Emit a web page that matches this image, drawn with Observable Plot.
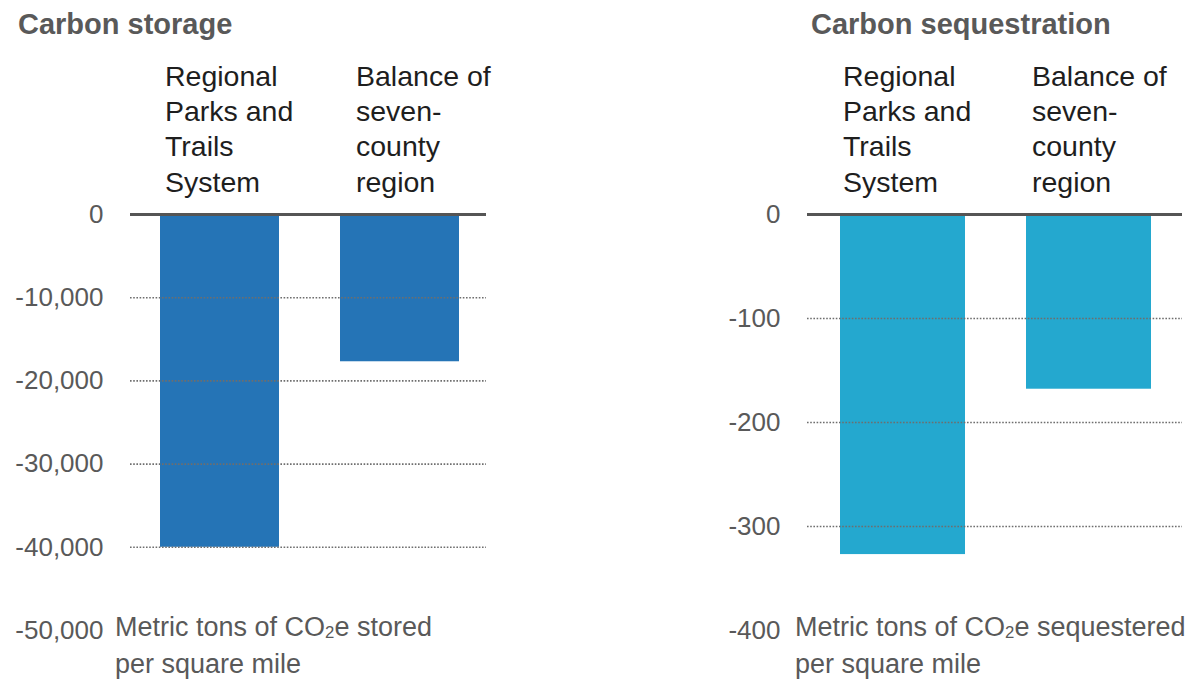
<!DOCTYPE html>
<html>
<head>
<meta charset="utf-8">
<script src="https://cdn.jsdelivr.net/npm/d3@7"></script>
<script src="https://cdn.jsdelivr.net/npm/@observablehq/plot@0.6"></script>
<style>
  html, body { margin: 0; padding: 0; background: #ffffff; }
  #page { position: relative; width: 1191px; height: 682px; overflow: hidden; font-family: "Liberation Sans", Arial, sans-serif; }
  .panel { position: absolute; top: 0; }
  .title { position: absolute; font-weight: bold; font-size: 29px; line-height: 29px; color: #595959; white-space: nowrap; }
  .unit { position: absolute; font-size: 27px; line-height: 37px; color: #595959; white-space: nowrap; }
  .unit sub { font-size: 0.62em; vertical-align: -0.12em; line-height: 0; }
</style>
</head>
<body>
<div id="page">
  <div class="panel" id="left" style="left:0px;"></div>
  <div class="panel" id="right" style="left:700px;"></div>
  <div class="title" style="left:18px; top:10px;">Carbon storage</div>
  <div class="title" style="left:811px; top:10px;">Carbon sequestration</div>
  <div class="unit" style="left:115px; top:609px;">Metric tons of CO<sub>2</sub>e stored<br>per square mile</div>
  <div class="unit" style="left:795px; top:609px;">Metric tons of CO<sub>2</sub>e sequestered<br>per square mile</div>
</div>
<script>
// ---- data ----
const categories = ["Regional Parks and Trails System", "Balance of seven-county region"];
const categoryLabels = ["Regional\nParks and\nTrails\nSystem", "Balance of\nseven-\ncounty\nregion"];
const storageValues = [-40000, -17700];
const sequestrationValues = [-327, -168];
const storageTicks = [0, -10000, -20000, -30000, -40000, -50000];
const sequestrationTicks = [0, -100, -200, -300, -400];

function makePanel({values, ticks, color, width, marginLeft, marginRight, xRange, padding, labelDx}) {
  const rows = categories.map((c, i) => ({category: c, label: categoryLabels[i], value: values[i]}));
  const yMin = d3.min(ticks);
  const grid = ticks.filter(t => t !== 0 && t !== yMin);
  return Plot.plot({
    width, height: 682,
    marginTop: 214, marginBottom: 52, marginLeft, marginRight,
    style: {fontFamily: "'Liberation Sans', Arial, sans-serif", fontSize: "26px", color: "#595959", background: "transparent", overflow: "visible"},
    x: {domain: categories, range: xRange, paddingInner: padding, paddingOuter: 0, axis: null},
    y: {domain: [yMin, 0], axis: null},
    marks: [
      Plot.barY(rows, {x: "category", y: "value", fill: color}),
      Plot.ruleY(grid, {stroke: "#6e6e6e", strokeWidth: 1.6, strokeDasharray: "1.6 1.6"}),
      Plot.ruleY([0], {stroke: "#555555", strokeWidth: 3}),
      Plot.axisY(ticks, {tickSize: 0, tickPadding: 27, label: null, tickFormat: d => d.toLocaleString("en-US"), fontSize: 26, fill: "#595959"}),
      ...rows.map((r, i) => Plot.text([r], {
        x: "category", text: "label", frameAnchor: "top", textAnchor: "start", lineAnchor: "top",
        dx: labelDx[i], dy: -153, lineHeight: 1.23, fontSize: 28.5, fill: "#1e1e1e"
      }))
    ]
  });
}

document.getElementById("left").appendChild(makePanel({
  values: storageValues, ticks: storageTicks, color: "#2574b6",
  width: 500, marginLeft: 130, marginRight: 14, xRange: [160, 459], padding: 0.34, labelDx: [-55, -44]
}));
document.getElementById("right").appendChild(makePanel({
  values: sequestrationValues, ticks: sequestrationTicks, color: "#24a8cf",
  width: 491, marginLeft: 107, marginRight: 9, xRange: [139, 451], padding: 0.33, labelDx: [-60, -57]
}));
</script>
</body>
</html>
